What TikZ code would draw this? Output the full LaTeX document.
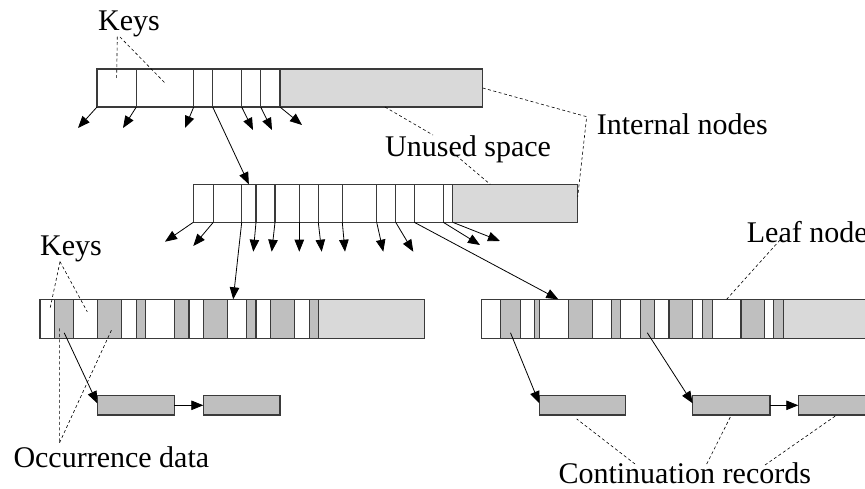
\documentclass[tikz,border=0pt]{standalone}
\usepackage{fontspec}
\setmainfont{Liberation Serif}
\usetikzlibrary{arrows.meta,calc}
\definecolor{occgrey}{HTML}{BFBFBF}
\definecolor{freegrey}{HTML}{D9D9D9}
\definecolor{edgegrey}{HTML}{3A3A3A}

\begin{document}
\begin{tikzpicture}[x=1pt,y=-1pt,
  cell/.style={draw=edgegrey, line width=1.2pt, rectangle, inner sep=0pt, outer sep=0pt},
  ptr/.style={line width=0.8pt, -{Triangle[length=12pt,width=9.5pt]}},
  callout/.style={line width=0.6pt, dash pattern=on 3pt off 2.5pt},
  lbl/.style={anchor=base west, inner sep=0pt, font=\fontsize{30}{36}\selectfont}]

\useasboundingbox (0,0) rectangle (865,489);

% ---- upper internal node
\foreach \a/\b/\f [count=\i] in {97/136.3/white,136.3/193.7/white,193.7/212.7/white,
    212.7/241.7/white,241.7/260.7/white,260.7/280/white,280/482.7/freegrey}
  \node[cell, fill=\f, minimum width={(\b-\a)*1pt}, minimum height=38pt] (t\i) at ({(\a+\b)/2},88) {};

% ---- lower internal node
\foreach \a/\b/\f [count=\i] in {193.3/213.3/white,213.3/241.7/white,241.7/256/white,
    256/275/white,275/299.3/white,299.3/318.3/white,318.3/342.3/white,342.3/376.7/white,
    376.7/395.7/white,395.7/414.3/white,414.3/443.3/white,443.3/452.7/white,452.7/577.7/freegrey}
  \node[cell, fill=\f, minimum width={(\b-\a)*1pt}, minimum height=38pt] (m\i) at ({(\a+\b)/2},203.3) {};

% ---- left leaf node
\foreach \a/\b/\f [count=\i] in {40/54.7/white,54.7/73.7/occgrey,73.7/97.7/white,
    97.7/121.3/occgrey,121.3/136.3/white,136.3/145.3/occgrey,145.3/174.7/white,
    174.7/189/occgrey,189/203.7/white,203.7/227.7/occgrey,227.7/246.7/white,
    246.7/256/occgrey,256/270.7/white,270.7/294.7/occgrey,294.7/309.3/white,
    309.3/318.3/occgrey,318.3/424.3/freegrey}
  \node[cell, fill=\f, minimum width={(\b-\a)*1pt}, minimum height=39pt] (L\i) at ({(\a+\b)/2},318.8) {};

% ---- right leaf node
\foreach \a/\b/\f [count=\i] in {481.7/500.7/white,500.7/520.3/occgrey,520.3/534.3/white,
    534.3/539.3/occgrey,539.3/568.3/white,568.3/592.3/occgrey,592.3/611.3/white,
    611.3/620.7/occgrey,620.7/640.3/white,640.3/654.3/occgrey,654.3/669/white,
    669/692.7/occgrey,692.7/702.3/white,702.3/712.3/occgrey,712.3/741/white,
    741/764.7/occgrey,764.7/773.3/white,773.3/783.3/occgrey,783.3/900/freegrey}
  \node[cell, fill=\f, minimum width={(\b-\a)*1pt}, minimum height=39pt] (R\i) at ({(\a+\b)/2},318.8) {};

% ---- continuation records
\foreach \a/\b [count=\i] in {97.3/174.3,203.3/280,539.3/625.7,692.7/770,798.3/900}
  \node[cell, fill=occgrey, minimum width={(\b-\a)*1pt}, minimum height=19.3pt] (c\i) at ({(\a+\b)/2},405.3) {};

% ---- free ends of child pointers
\foreach \n/\x/\y in {ta/78/128, tb/123/128, tc/185/128, td/253/130, te/272/130, tf/302/125,
    ma/165/241.7, mb/193.3/246, mc/253.3/251.7, md/271.7/251.7, me/299.3/251.7,
    mf/321.7/251.7, mg/345/251.7, mh/383.3/251.7, mi/413.3/251.7, mj/480/245, mk/500/241}
  \coordinate (\n) at (\x,\y);

% pointers from the upper internal node
\draw[ptr] (t1.south west) -- (ta);
\draw[ptr] (t2.south west) -- (tb);
\draw[ptr] (t3.south west) -- (tc);
\draw[ptr] (t4.south west) -- (m3.north);
\draw[ptr] (t5.south west) -- (td);
\draw[ptr] (t6.south west) -- (te);
\draw[ptr] (t7.south west) -- (tf);

% pointers from the lower internal node
\draw[ptr] (m1.south west) -- (ma);
\draw[ptr] (m2.south west) -- (mb);
\draw[ptr] (m3.south west) -- ([xshift=-4pt]L11.north);
\draw[ptr] (m4.south west) -- (mc);
\draw[ptr] (m5.south west) -- (md);
\draw[ptr] (m6.south west) -- (me);
\draw[ptr] (m7.south west) -- (mf);
\draw[ptr] (m8.south west) -- (mg);
\draw[ptr] (m9.south west) -- (mh);
\draw[ptr] (m10.south west) -- (mi);
\draw[ptr] (m11.south west) -- ([xshift=4.5pt]R5.north);
\draw[ptr] (m12.south west) -- (mj);
\draw[ptr] (m13.south west) -- (mk);

% occurrence data to continuation records
\draw[ptr] ([yshift=-14pt]L2.center) -- ([yshift=2pt]c1.west);
\draw[ptr] ([yshift=-14pt]R2.center) -- ([yshift=2pt]c3.west);
\draw[ptr] ([yshift=-14pt]R10.center) -- ([yshift=2pt]c4.west);
\draw[ptr] (c1.east) -- (c2.west);
\draw[ptr] (c4.east) -- (c5.west);

% ---- labels
\node[lbl] (keysA) at (98,31) {Keys};
\node[lbl] (internal) at (596.7,135) {Internal nodes};
\node[lbl] (unused) at (385,156.7) {Unused space};
\node[lbl] (keysB) at (40,255) {Keys};
\node[lbl] (leaf) at (746.7,243) {Leaf nodes};
\node[lbl] (occ) at (13.3,467.7) {Occurrence data};
\node[lbl, text depth=0pt] (cont) at (558.3,483.5) {Continuation records};

% ---- callout lines
\coordinate (kA) at (117.3,36.7);
\coordinate (kA2) at (120,37);
\draw[callout] (kA) -- ([yshift=10pt]t1.center);
\draw[callout] (kA2) -- ([yshift=5pt]t2.center);

\coordinate (inbend) at (586.7,116.7);
\draw[callout] (t7.east) -- (inbend) -- ([yshift=6.6pt]m13.east);

\coordinate (unA) at (433,135);
\coordinate (unB) at (452,152);
\draw[callout] ([xshift=3.6pt]t7.south) -- (unA);
\draw[callout] (unB) -- ([xshift=-25pt]m13.north);

\coordinate (lfA) at (780,240);
\draw[callout] (lfA) -- (R15.north);

\coordinate (kB) at (60,261.7);
\draw[callout] (kB) -- ([xshift=2.6pt,yshift=9.8pt]L1.center);
\draw[callout] (kB) -- ([xshift=1.6pt,yshift=7pt]L3.center);

\coordinate (ocA) at (59.3,443.3);
\draw[callout] ([xshift=-4.9pt,yshift=-9.5pt]L2.center) -- (ocA)
  -- ([xshift=2.8pt,yshift=-9.5pt]L4.center);

\coordinate (crA) at (635,464);
\coordinate (crB) at (706.7,464);
\coordinate (crC) at (765,465);
\draw[callout] (crA) -- ([xshift=-5.8pt,yshift=-4pt]c3.south);
\draw[callout] (crB) -- (c4.south);
\draw[callout] (crC) -- ([xshift=-12.3pt]c5.south);
\end{tikzpicture}
\end{document}
